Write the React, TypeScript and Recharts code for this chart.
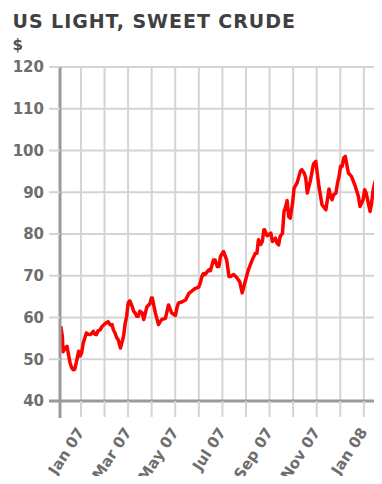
import { LineChart, Line, XAxis, YAxis, CartesianGrid } from "recharts";

// days since 1 Jan 2007
const days = [
  -26, -24, -23, -21, -18, -14, -12, -10, -8, -6,
  -3, -1, 1, 3, 7, 9, 12, 14, 16, 18,
  20, 22, 25, 27, 31, 35, 38, 40, 42, 44,
  46, 48, 51, 55, 57, 59, 61, 63, 66, 68,
  70, 72, 74, 76, 79, 81, 85, 89, 91, 92,
  96, 100, 104, 109, 113, 117, 122, 124, 126, 130,
  135, 139, 143, 147, 152, 154, 156, 158, 160, 165,
  167, 171, 173, 176, 178, 180, 184, 188, 191, 193,
  197, 201, 205, 208, 212, 216, 221, 225, 227, 229,
  232, 234, 236, 237, 240, 245, 247, 249, 251, 253,
  255, 257, 260, 262, 263, 266, 268, 270, 273, 275,
  279, 283, 285, 288, 290, 292, 296, 300, 303, 307,
  311, 316, 320, 322, 324, 326, 329, 331, 333, 335,
  337, 339, 341, 345, 349, 354, 358, 360, 364, 366,
  368, 373, 375, 377, 379, 382, 385, 387, 389,
];

const prices = [
  57.9, 55.5, 51.8, 52.5, 53.1, 49.1, 48.0, 47.5, 47.6, 49.2,
  51.9, 50.8, 51.6, 53.9, 56.3, 56.0, 55.9, 56.2, 56.7, 56.0,
  55.9, 56.8, 57.1, 57.8, 58.5, 59.0, 58.2, 58.3, 57.0, 56.3,
  55.2, 54.7, 52.7, 55.5, 58.5, 60.3, 63.5, 64.0, 62.7, 61.5,
  61.1, 60.3, 60.3, 61.5, 61.1, 59.5, 62.5, 63.3, 64.7, 64.7,
  61.1, 58.3, 59.5, 59.8, 63.0, 61.1, 60.5, 62.5, 63.5, 63.7,
  64.2, 65.7, 66.3, 66.9, 67.3, 68.3, 69.8, 70.5, 70.3, 71.4,
  71.2, 73.8, 73.8, 72.2, 72.2, 74.6, 75.8, 73.8, 69.8, 69.8,
  70.3, 69.6, 68.5, 65.9, 68.7, 71.4, 73.8, 75.4, 75.4, 78.6,
  77.5, 78.2, 81.0, 81.0, 79.6, 80.2, 78.2, 78.6, 79.0, 77.8,
  77.4, 79.4, 80.2, 85.4, 85.8, 88.0, 84.2, 83.8, 87.4, 91.0,
  92.3, 95.0, 95.4, 94.6, 93.4, 89.8, 92.8, 96.8, 97.4, 91.4,
  87.0, 85.8, 90.8, 89.0, 88.2, 89.4, 89.8, 92.2, 93.8, 96.2,
  96.2, 98.2, 98.6, 94.6, 93.8, 91.4, 89.0, 86.6, 88.2, 90.6,
  89.8, 85.4, 87.4, 90.6, 92.2, 93.8, 97.8, 100.2, 99.4,
];

const monthLabels = [
  "Jan 07", "Feb 07", "Mar 07", "Apr 07", "May 07", "Jun 07", "Jul 07",
  "Aug 07", "Sep 07", "Oct 07", "Nov 07", "Dec 07", "Jan 08", "Feb 08",
];

const priceTicks = [40, 50, 60, 70, 80, 90, 100, 110, 120];

const data = days.map((d, i) => ({ day: d, price: prices[i] }));
const monthTicks = monthLabels.map((_, i) => (i * 365) / 12);

const GRID = "#d4d4d4";
const AXIS = "#9a9a9a";
const LABEL = "#6e6e6e";

const MonthTick = (props: any) => {
  const { x, y, index } = props;
  if (index % 2 !== 0) return null;
  const tx = x + 4;
  return (
    <text
      x={tx}
      y={y}
      transform={`rotate(-57 ${tx} ${y})`}
      textAnchor="end"
      fontSize={15}
      fontWeight="bold"
      fill={LABEL}
      fontFamily="DejaVu Sans"
    >
      {monthLabels[index]}
    </text>
  );
};

const PriceTick = (props: any) => {
  const { x, y, payload } = props;
  const axisX = x + 16;
  return (
    <g>
      {payload.value === 40 && (
        <>
          <line x1={axisX - 11} y1={y} x2={axisX} y2={y} stroke={AXIS} strokeWidth={3} />
          <line x1={axisX} y1={y} x2={axisX} y2={y + 17} stroke={AXIS} strokeWidth={3} />
        </>
      )}
      <text
        x={x}
        y={y}
        dy="0.36em"
        textAnchor="end"
        fontSize={15}
        fontWeight="bold"
        fill={LABEL}
        fontFamily="DejaVu Sans"
      >
        {payload.value}
      </text>
    </g>
  );
};

export default function App() {
  return (
    <div
      style={{
        position: "relative",
        width: 374,
        height: 476,
        marginBottom: -8,
        overflow: "hidden",
        fontFamily: "DejaVu Sans",
      }}
    >
      <div
        style={{
          position: "absolute",
          left: 4.5,
          top: 4,
          fontSize: 19,
          lineHeight: "19px",
          fontWeight: "bold",
          letterSpacing: 0.95,
          color: "#404040",
          whiteSpace: "nowrap",
        }}
      >
        US LIGHT, SWEET CRUDE
      </div>
      <div
        style={{
          position: "absolute",
          left: 4.5,
          top: 30,
          fontSize: 15,
          lineHeight: "15px",
          fontWeight: "bold",
          color: "#505050",
        }}
      >
        $
      </div>
      <div style={{ position: "absolute", left: 0, top: 0 }}>
        <LineChart
          width={383}
          height={476}
          data={data}
          margin={{ top: 59, right: 0, bottom: 0, left: 0 }}
        >
          <CartesianGrid stroke={GRID} strokeWidth={2} />
          <XAxis
            dataKey="day"
            type="number"
            domain={[-27, 400]}
            ticks={monthTicks}
            interval={0}
            allowDataOverflow
            height={83}
            tickSize={16}
            tickMargin={15}
            tickLine={{ stroke: GRID, strokeWidth: 2 }}
            axisLine={{ stroke: AXIS, strokeWidth: 3 }}
            tick={<MonthTick />}
          />
          <YAxis
            type="number"
            domain={[40, 120]}
            ticks={priceTicks}
            interval={0}
            width={52}
            tickSize={11}
            tickMargin={5}
            tickLine={{ stroke: GRID, strokeWidth: 2 }}
            axisLine={{ stroke: AXIS, strokeWidth: 3 }}
            tick={<PriceTick />}
          />
          <Line
            type="linear"
            dataKey="price"
            stroke="#ff0000"
            strokeWidth={3.5}
            strokeLinejoin="round"
            dot={false}
            isAnimationActive={false}
          />
        </LineChart>
      </div>
    </div>
  );
}
